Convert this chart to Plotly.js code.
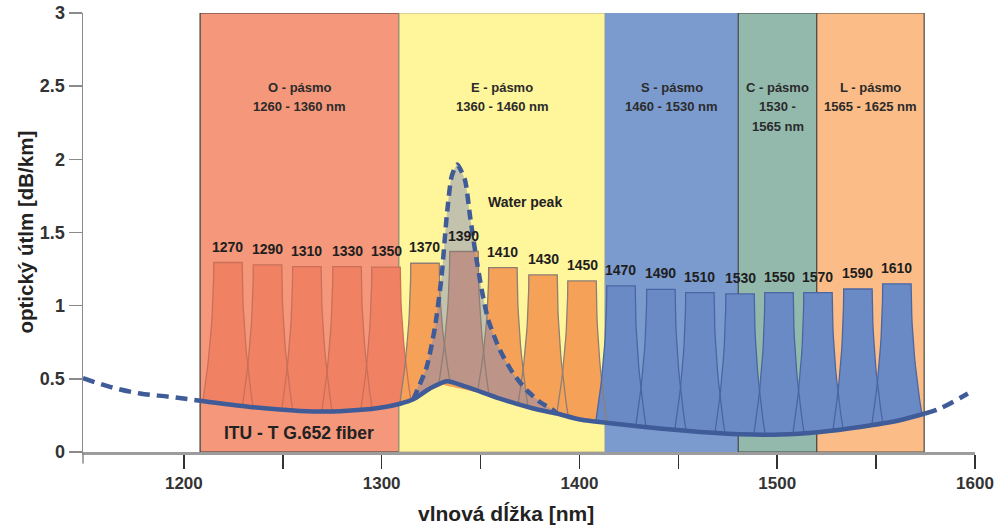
<!DOCTYPE html>
<html>
<head>
<meta charset="utf-8">
<script src="https://cdn.plot.ly/plotly-3.0.1.min.js"></script>
<style>html,body{margin:0;padding:0;background:#fff;}#chart{width:1002px;height:526px;}</style>
</head>
<body>
<div id="chart"></div>
<script>
// ---------------- DATA (axis units) ----------------
const bandNames  = ["O - pásmo", "E - pásmo", "S - pásmo", "C - pásmo", "L - pásmo"];
const bandRanges = ["1260 - 1360 nm", "1360 - 1460 nm", "1460 - 1530 nm", "1530 -<br>1565 nm", "1565 - 1625 nm"];
const bandStart  = [1208.2, 1308.8, 1412.9, 1480.3, 1520.0];
const bandEnd    = [1308.8, 1412.9, 1480.3, 1520.0, 1574.3];

const channelLabels = [1270,1290,1310,1330,1350,1370,1390,1410,1430,1450,1470,1490,1510,1530,1550,1570,1590,1610];
const channelPos    = [1222.3,1242.3,1262.2,1282.5,1302.2,1321.9,1341.6,1361.3,1381.6,1401.3,1421.0,1441.2,1460.9,1481.2,1500.9,1520.6,1540.8,1560.5];
const channelPeak   = [1.295,1.279,1.267,1.267,1.263,1.29,1.37,1.26,1.21,1.169,1.135,1.112,1.089,1.08,1.089,1.089,1.114,1.149];
const channelBaseL  = [0.345,0.313,0.29,0.279,0.29,0.33,0.465,0.42,0.32,0.263,0.21,0.18,0.15,0.13,0.12,0.122,0.142,0.18];
const channelBaseR  = [0.305,0.285,0.279,0.295,0.345,0.48,0.39,0.31,0.245,0.20,0.17,0.145,0.128,0.12,0.128,0.155,0.19,0.255];

// ITU-T G.652 fiber attenuation
const fiberX = [1208.2,1233.4,1258.7,1278.9,1299.2,1309.3,1316.0,1324.4,1332.9,1343.0,1359.8,1376.7,1388.5,1400.3,1420.5,1440.7,1461.0,1481.2,1501.4,1521.6,1541.8,1562.0,1574.7];
const fiberY = [0.35,0.308,0.281,0.279,0.302,0.33,0.36,0.434,0.484,0.445,0.365,0.297,0.263,0.222,0.19,0.16,0.137,0.121,0.119,0.137,0.171,0.217,0.263];
const fiberLeftX  = [1149.0,1162.7,1177.8,1193.0,1208.2];
const fiberLeftY  = [0.505,0.445,0.40,0.377,0.35];
const fiberRightX = [1574.7,1582.3,1596.4];
const fiberRightY = [0.263,0.297,0.40];

// water peak
const peakX = [1316.0,1322.8,1327.0,1330.3,1332.9,1335.4,1338.2,1342.1,1344.7,1347.2,1350.6,1353.9,1359.8,1366.5,1373.3,1380.0,1386.8,1388.5];
const peakY = [0.36,0.582,0.856,1.199,1.61,1.884,1.964,1.86,1.61,1.381,1.108,0.902,0.697,0.537,0.423,0.342,0.286,0.263];

const xTickVals = [1200,1250,1300,1350,1400,1450,1500,1550,1600];
const xTickText = ["1200","","1300","","1400","","1500","","1600"];
const yTickVals = [0,0.5,1,1.5,2,2.5,3];
const yTickText = ["0","0.5","1","1.5","2","2.5","3"];

// ---------------- STYLE ----------------
const ARIAL = "Liberation Sans, Arial, Helvetica, sans-serif";
const bandFill = ["#F4977A", "#FFF59A", "#7B9BCF", "#93B9AD", "#FBBC87"];
const bandLine = ["#3a3a3a", "#b8b08a", "rgba(0,0,0,0)", "#454545", "#4a4a4a"];
const lineBlue = "#3F5B98";
function chanStyle(label) {
  if (label <= 1350) return {fill: "#F08163", line: "#C9705A"};
  if (label <= 1450) return {fill: "#F5A158", line: "#8E7E74"};
  return {fill: "#6A8AC6", line: "#4A66A2"};
}
const TOP_HALF = 7.2, FLARE = 5.5, NSEG = 16;

function channelOutline(i) {
  const c = channelPos[i], h = channelPeak[i];
  const xs = [], ys = [];
  for (let k = NSEG; k >= 0; k--) {
    const f = k / NSEG;
    xs.push(c - (TOP_HALF + FLARE * Math.pow(f, 2)));
    ys.push(h - f * (h - channelBaseL[i]));
  }
  for (let k = 0; k <= NSEG; k++) {
    const f = k / NSEG;
    xs.push(c + (TOP_HALF + FLARE * Math.pow(f, 2)));
    ys.push(h - f * (h - channelBaseR[i]));
  }
  return {xs, ys};
}

const traces = [];
channelLabels.forEach((lab, i) => {
  const o = channelOutline(i), st = chanStyle(lab);
  traces.push({x: o.xs.concat([o.xs[0]]), y: o.ys.concat([o.ys[0]]), type: "scatter", mode: "lines",
    fill: "toself", fillcolor: st.fill, line: {width: 0, color: st.fill}, hoverinfo: "skip", showlegend: false});
});
const inPeak = fiberX.map((x, i) => i).filter(i => fiberX[i] >= peakX[0] && fiberX[i] <= peakX[peakX.length - 1]).reverse();
traces.push({x: peakX.concat(inPeak.map(i => fiberX[i])), y: peakY.concat(inPeak.map(i => fiberY[i])),
  type: "scatter", mode: "lines", fill: "toself", fillcolor: "rgba(122,132,196,0.45)",
  line: {width: 0, shape: "spline", smoothing: 0.6}, hoverinfo: "skip", showlegend: false});
channelLabels.forEach((lab, i) => {
  const o = channelOutline(i), st = chanStyle(lab);
  traces.push({x: o.xs, y: o.ys, type: "scatter", mode: "lines",
    line: {width: 1.3, color: st.line}, hoverinfo: "skip", showlegend: false});
});
traces.push({x: fiberLeftX, y: fiberLeftY, type: "scatter", mode: "lines",
  line: {color: lineBlue, width: 4.5, dash: "12px,7px", shape: "spline"}, showlegend: false});
traces.push({x: fiberRightX, y: fiberRightY, type: "scatter", mode: "lines",
  line: {color: lineBlue, width: 4.5, dash: "12px,7px", shape: "spline"}, showlegend: false});
traces.push({x: peakX, y: peakY, type: "scatter", mode: "lines",
  line: {color: lineBlue, width: 4.5, dash: "10px,6px", shape: "spline", smoothing: 0.6}, showlegend: false});
traces.push({x: fiberX, y: fiberY, type: "scatter", mode: "lines",
  line: {color: lineBlue, width: 4.5, shape: "spline", smoothing: 0.7}, name: "ITU - T G.652 fiber", showlegend: false});

const shapes = bandStart.map((s, i) => ({type: "rect", xref: "x", yref: "y", x0: s, x1: bandEnd[i], y0: 0, y1: 3,
  fillcolor: bandFill[i], line: {color: bandLine[i], width: 1.2}, layer: "below"}));
shapes.push({type: "line", xref: "paper", yref: "paper", x0: 0, x1: 0, y0: 0, y1: -0.026,
  line: {color: "#8a8a8a", width: 1.5}});

const annotations = [];
const bandFont = {family: ARIAL, size: 13, color: "#2b2b2b", weight: 700};
bandNames.forEach((n, i) => {
  const lines = [n].concat(bandRanges[i].split("<br>"));
  lines.forEach((t, k) => {
    annotations.push({x: (bandStart[i] + bandEnd[i]) / 2, y: 2.491, xref: "x", yref: "y", yanchor: "middle",
      yshift: -19.3 * k, text: t, showarrow: false, font: bandFont});
  });
});
channelLabels.forEach((lab, i) => {
  annotations.push({x: channelPos[i], y: channelPeak[i], xref: "x", yref: "y", yanchor: "middle", yshift: 16,
    text: String(lab), showarrow: false, font: {family: ARIAL, size: 14, color: "#1e1e1e", weight: 700}});
});
annotations.push({x: 1372.5, y: 1.71, xref: "x", yref: "y", text: "Water peak", showarrow: false,
  font: {family: ARIAL, size: 14, color: "#222", weight: 700}});
annotations.push({x: 1258.2, y: 0.128, xref: "x", yref: "y", text: "ITU - T G.652 fiber", showarrow: false,
  font: {family: ARIAL, size: 17.5, color: "#222", weight: 700}});
annotations.push({x: 0.474, y: -0.139, xref: "paper", yref: "paper", xanchor: "center", yanchor: "middle",
  text: "vlnová dĺžka [nm]", showarrow: false, font: {family: ARIAL, size: 21, color: "#222", weight: 700}});
annotations.push({x: -0.065, y: 0.5, xref: "paper", yref: "paper", xanchor: "center", yanchor: "middle", textangle: -90,
  text: "optický útlm [dB/km]", showarrow: false, font: {family: ARIAL, size: 20.5, color: "#222", weight: 700}});

const layout = {
  width: 1002, height: 526,
  margin: {l: 83, r: 27, t: 13, b: 74},
  paper_bgcolor: "#ffffff", plot_bgcolor: "#ffffff",
  showlegend: false,
  xaxis: {range: [1149, 1600], showgrid: false, zeroline: false, showline: true, linecolor: "#9c9c9c", linewidth: 2.5,
    ticks: "outside", ticklen: 14, tickwidth: 1.5, tickcolor: "#333", tickvals: xTickVals, ticktext: xTickText,
    tickfont: {family: ARIAL, size: 17, color: "#333", weight: 700}, fixedrange: true},
  yaxis: {range: [0, 3], showgrid: false, zeroline: false, showline: true, linecolor: "#8a8a8a", linewidth: 1.5,
    ticks: "outside", ticklen: 13, tickwidth: 1.5, tickcolor: "#8a8a8a", tickvals: yTickVals, ticktext: yTickText,
    tickfont: {family: ARIAL, size: 18, color: "#333", weight: 700}, fixedrange: true},
  shapes: shapes,
  annotations: annotations
};
Plotly.newPlot("chart", traces, layout, {displayModeBar: false, staticPlot: true});
</script>
</body>
</html>
